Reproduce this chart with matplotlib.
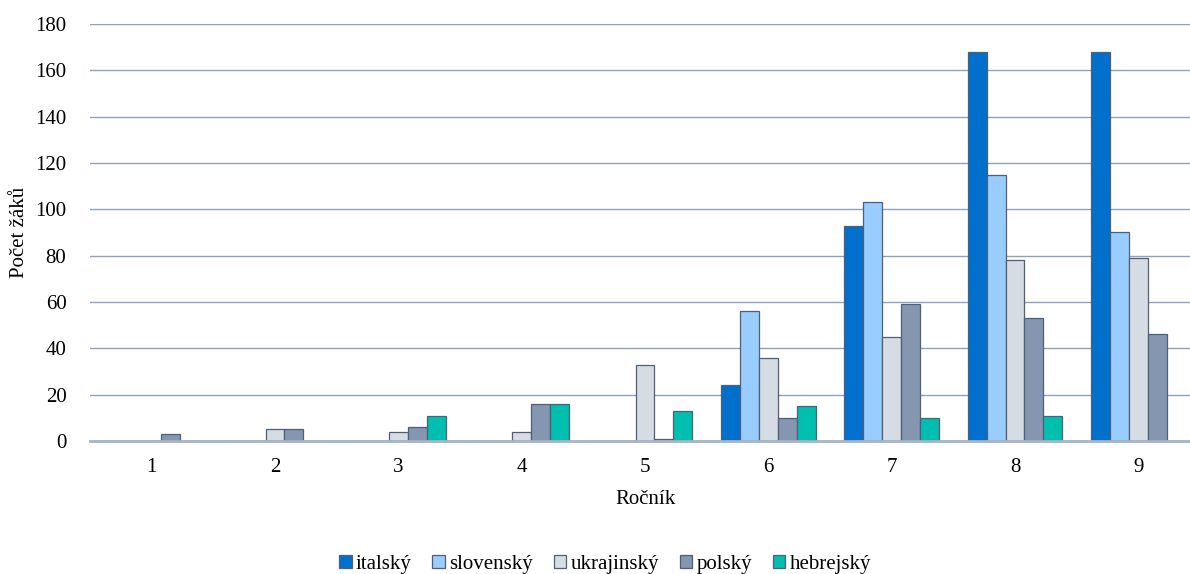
import matplotlib
matplotlib.use("Agg")
import matplotlib.pyplot as plt
import numpy as np

plt.rcParams['font.family'] = ['Liberation Serif', 'DejaVu Serif']

rocnik = ["1", "2", "3", "4", "5", "6", "7", "8", "9"]
italsky = [0, 0, 0, 0, 0, 24, 93, 168, 168]
slovensky = [0, 0, 0, 0, 0, 56, 103, 115, 90]
ukrajinsky = [0, 5, 4, 4, 33, 36, 45, 78, 79]
polsky = [3, 5, 6, 16, 1, 10, 59, 53, 46]
hebrejsky = [0, 0, 11, 16, 13, 15, 10, 11, 0]

series = [
    ("italský", italsky, "#0070CC"),
    ("slovenský", slovensky, "#99CCFF"),
    ("ukrajinský", ukrajinsky, "#D6DCE4"),
    ("polský", polsky, "#8496B0"),
    ("hebrejský", hebrejsky, "#00BFAE"),
]

fig = plt.figure(figsize=(11.9, 5.74), dpi=100)
ax = fig.add_axes([90/1190, 1-441/574, (1200-90)/1190, (441-24)/574])

x = np.arange(len(rocnik))
w = 1/6.5
for i, (name, vals, col) in enumerate(series):
    ax.bar(x + (i-2)*w, vals, width=w, color=col, edgecolor="#4F5F78",
           linewidth=0.9, label=name, zorder=3)

ax.set_xlim(-0.5, 8.5)
ax.set_ylim(0, 180)
ax.set_yticks(range(0, 181, 20))
ax.set_xticks(x)
ax.set_xticklabels(rocnik)
ax.yaxis.grid(True, color="#8FA0BC", linewidth=1.0, zorder=0)
ax.set_axisbelow(True)
for s in ["top", "right", "left"]:
    ax.spines[s].set_visible(False)
ax.spines["bottom"].set_color("#A6B4C8")
ax.spines["bottom"].set_linewidth(2)
ax.spines["bottom"].set_zorder(4)
ax.tick_params(axis="both", length=0, labelsize=15)
ax.tick_params(axis="y", pad=17)
ax.tick_params(axis="x", pad=12)

fig.text(20/1190, 1-232/574, "Počet žáků", fontsize=15, ha="center",
         va="center", rotation=90)
fig.text(645/1190, 1-500/574, "Ročník", fontsize=15, ha="center", va="center")

fig.legend(loc="center", bbox_to_anchor=(605/1190, 1-564/574), ncol=5,
           frameon=False, fontsize=15, handlelength=0.6, handleheight=0.6,
           handletextpad=0.2, columnspacing=1.0)

fig.savefig("out.png", dpi=100)
